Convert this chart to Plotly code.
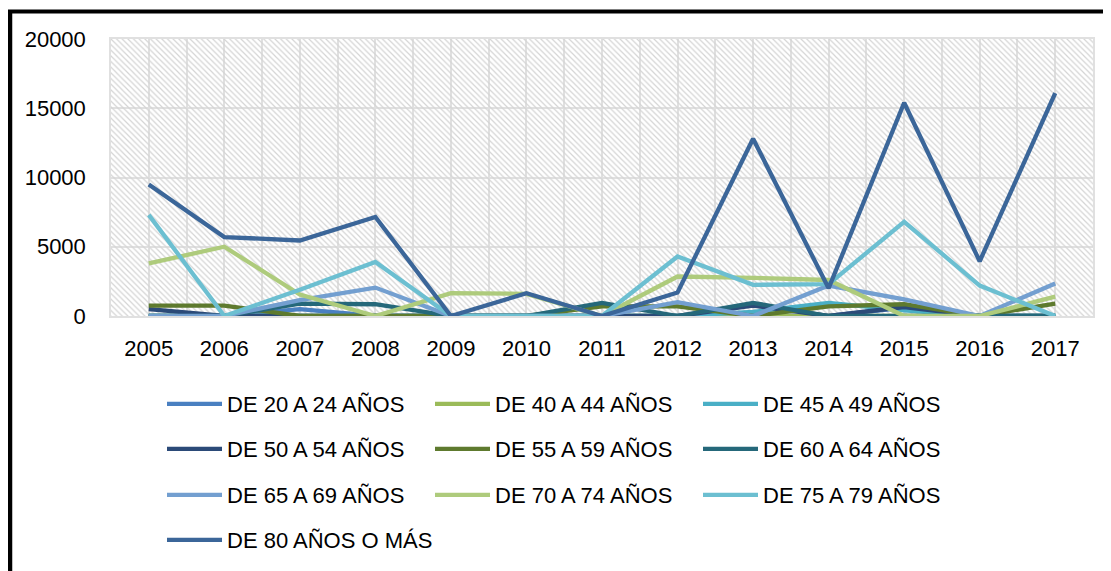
import plotly.graph_objects as go

years = [2005, 2006, 2007, 2008, 2009, 2010, 2011, 2012, 2013, 2014, 2015, 2016, 2017]

de_20_24 = [0, 0, 500, 0, 0, 0, 0, 0, 0, 0, 600, 0, 0]
de_40_44 = [0, 0, 0, 0, 0, 0, 0, 0, 0, 0, 0, 0, 0]
de_45_49 = [0, 0, 0, 0, 0, 0, 0, 0, 300, 950, 400, 0, 0]
de_50_54 = [500, 0, 0, 0, 0, 0, 0, 0, 750, 0, 650, 0, 0]
de_55_59 = [750, 750, 0, 0, 0, 0, 700, 700, 0, 700, 850, 0, 900]
de_60_64 = [0, 0, 900, 850, 0, 0, 950, 0, 950, 0, 0, 0, 0]
de_65_69 = [0, 0, 1150, 2050, 0, 0, 0, 1000, 0, 2200, 1200, 0, 2350]
de_70_74 = [3800, 5000, 1550, 0, 1650, 1600, 0, 2850, 2750, 2600, 0, 0, 1400]
de_75_79 = [7300, 0, 1900, 3900, 0, 0, 0, 4300, 2250, 2300, 6800, 2200, 0]
de_80_mas = [9500, 5700, 5450, 7150, 0, 1650, 0, 1700, 12800, 2000, 15400, 3950, 16100]

series = [
    ("DE 20 A 24 AÑOS", de_20_24, "#4a80c1", "legend"),
    ("DE 40 A 44 AÑOS", de_40_44, "#9bbb59", "legend"),
    ("DE 45 A 49 AÑOS", de_45_49, "#4aafc6", "legend"),
    ("DE 50 A 54 AÑOS", de_50_54, "#2b4a78", "legend2"),
    ("DE 55 A 59 AÑOS", de_55_59, "#5e7a2e", "legend2"),
    ("DE 60 A 64 AÑOS", de_60_64, "#25687a", "legend2"),
    ("DE 65 A 69 AÑOS", de_65_69, "#739fd0", "legend3"),
    ("DE 70 A 74 AÑOS", de_70_74, "#aecb7c", "legend3"),
    ("DE 75 A 79 AÑOS", de_75_79, "#6cbfd1", "legend3"),
    ("DE 80 AÑOS O MÁS", de_80_mas, "#3b6699", "legend4"),
]

OFF = 8  # page body margin
W, H = 1111 - OFF, 571 - OFF
L, T, R, B = 111 - OFF, 39 - OFF, 1093 - OFF, 316 - OFF
pw, ph = R - L, B - T

def px_x(x):  # page pixel -> paper
    return (x - OFF - L) / pw

def px_y(y):
    return (B - (y - OFF)) / ph

fig = go.Figure()

# hatched plot-area background
x0, x1 = years[0] - 0.5, years[-1] + 0.5
fig.add_trace(go.Scatter(
    x=[x0, x1, x1, x0, x0], y=[0, 0, 20000, 20000, 0],
    mode="lines", line=dict(width=0), fill="toself",
    fillcolor="rgba(0,0,0,0)",
    fillpattern=dict(shape="\\", size=4, solidity=0.3, fgcolor="#d4d4d4", fgopacity=1),
    showlegend=False, hoverinfo="skip",
))

for name, vals, color, lg in series:
    fig.add_trace(go.Scatter(
        x=years, y=vals, name=name, mode="lines",
        line=dict(color=color, width=4.3),
        legend=lg,
    ))

font = dict(family="Liberation Sans, Arial, sans-serif", size=22, color="#000000")

def legend_cfg(row_y, ew=198):
    return dict(
        orientation="h", x=px_x(162), xanchor="left",
        y=px_y(row_y), yanchor="middle",
        entrywidth=ew, entrywidthmode="pixels",
        itemwidth=55, font=font, bgcolor="rgba(0,0,0,0)",
        itemclick=False, itemdoubleclick=False,
    )

fig.update_layout(
    width=W, height=H,
    margin=dict(l=L, r=W - R, t=T, b=H - B, autoexpand=False),
    paper_bgcolor="white", plot_bgcolor="white",
    font=font,
    xaxis=dict(
        range=[x0, x1], tickmode="array", tickvals=years,
        ticktext=[str(y) for y in years],
        showgrid=True, gridcolor="#e0e0e0", gridwidth=1.5,
        minor=dict(tickmode="linear", tick0=x0, dtick=1, showgrid=True,
                   gridcolor="#e0e0e0", gridwidth=1.5),
        showline=True, mirror=True, linecolor="#e0e0e0", linewidth=1.5,
        ticks="", ticklabelstandoff=12, zeroline=False,
        tickfont=font,
    ),
    yaxis=dict(
        range=[0, 20000], tickmode="linear", tick0=0, dtick=5000,
        tickformat="d",
        showgrid=True, gridcolor="#e0e0e0", gridwidth=1.5,
        showline=True, mirror=True, linecolor="#e0e0e0", linewidth=1.5,
        zeroline=False, ticks="", ticklabelstandoff=19,
        tickfont=font,
    ),
    legend=legend_cfg(404),
    legend2=legend_cfg(449),
    legend3=legend_cfg(495),
    legend4=legend_cfg(540, ew=300),
    shapes=[
        dict(type="line", xref="paper", yref="paper",
             x0=px_x(8), y0=px_y(11.5), x1=px_x(1111), y1=px_y(11.5),
             line=dict(color="black", width=4)),
        dict(type="line", xref="paper", yref="paper",
             x0=px_x(10), y0=px_y(10), x1=px_x(10), y1=px_y(571),
             line=dict(color="black", width=4.5)),
    ],
)

fig.write_html("out.html")
